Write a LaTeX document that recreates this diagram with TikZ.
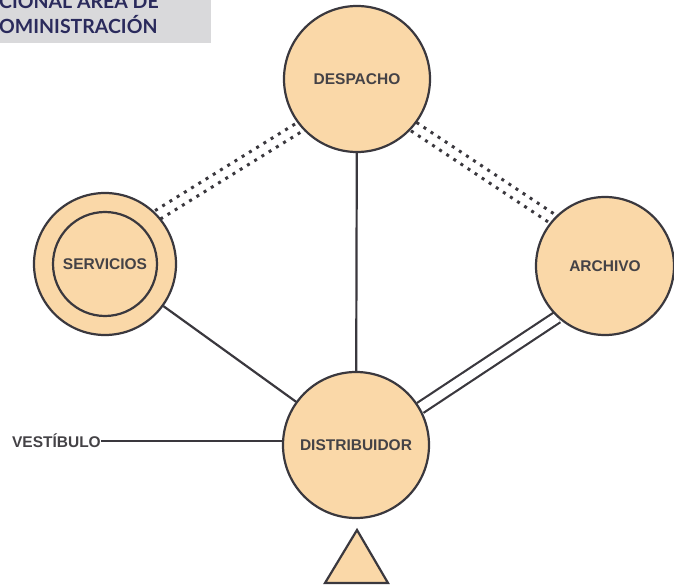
\documentclass[tikz,border=0pt]{standalone}
\usepackage{fontspec}
\setmainfont{Liberation Sans}
\newfontfamily\headfont{Lato}
\usetikzlibrary{calc,backgrounds}
\definecolor{peach}{HTML}{FAD8A8}
\definecolor{stroke}{HTML}{3A383E}
\definecolor{labelc}{HTML}{444246}
\definecolor{headbg}{HTML}{D9D9DB}
\definecolor{headtx}{HTML}{2A2A5C}
\tikzset{
  room/.style={circle, draw=stroke, fill=peach, line width=2.2pt, inner sep=0pt, minimum size=#1},
  lbl/.style={font=\bfseries\fontsize{15.5}{17}\selectfont, text=labelc},
  conn/.style={draw=stroke, line width=2.2pt},
  dotconn/.style={draw=stroke, line width=3pt, dash pattern=on 3pt off 5.5pt},
}
\begin{document}
\begin{tikzpicture}[x=1pt,y=-1pt]
\useasboundingbox (0,0) rectangle (674,585);
% header
\fill[headbg] (0,0) rectangle (211,43);
\begin{scope}
\clip (0,0) rectangle (211,43);
\node[anchor=base west, inner sep=0pt, text=headtx, font=\headfont\bfseries\fontsize{19.5}{22}\selectfont] (h1) at (-1,9) {CIONAL ÁREA DE};
\node[anchor=base west, inner sep=0pt, text=headtx, font=\headfont\bfseries\fontsize{19.5}{22}\selectfont] (h2) at (-1,34) {OMINISTRACIÓN};
\end{scope}
% rooms
\node[room=146pt] (desp) at (357,79) {};
\node[lbl] at (desp) {DESPACHO};
\node[room=142pt] (serv) at (105,264) {};
\node[circle, draw=stroke, line width=2.2pt, minimum size=104pt, inner sep=0pt] (servin) at (serv) {};
\node[lbl] at (serv) {SERVICIOS};
\node[room=138pt] (arch) at (605,266) {};
\node[lbl] at (arch) {ARCHIVO};
\node[room=146pt] (dist) at (356,445) {};
\node[lbl] at (dist) {DISTRIBUIDOR};
\node[lbl, anchor=east, inner sep=0pt] (vest) at (101,441) {VESTÍBULO};
\coordinate (vend) at (vest.east -| dist.west);
% entrance triangle
\draw[draw=stroke, fill=peach, line width=2.2pt, line join=miter] (357,530) -- (388,583) -- (325,583) -- cycle;
% connectors
\begin{scope}[on background layer]
\draw[conn] (desp) -- (dist);
\draw[conn] (serv) -- (dist);
\draw[conn] (vest.east) -- (vend);
\draw[draw=stroke, line width=2.2pt, double=white, double distance=9.5pt] (dist.30) -- (arch.227);
% dotted pairs
\path (serv.43) coordinate (s1) (desp.220) coordinate (d1);
\draw[dotconn] ($(s1)!5pt!90:(d1)$) -- ($(d1)!5pt!-90:(s1)$);
\draw[dotconn] ($(s1)!5pt!-90:(d1)$) -- ($(d1)!5pt!90:(s1)$);
\path (desp.-40) coordinate (d2) (arch.138) coordinate (a2);
\draw[dotconn] ($(d2)!5pt!90:(a2)$) -- ($(a2)!5pt!-90:(d2)$);
\draw[dotconn] ($(d2)!5pt!-90:(a2)$) -- ($(a2)!5pt!90:(d2)$);
\end{scope}
\end{tikzpicture}
\end{document}
